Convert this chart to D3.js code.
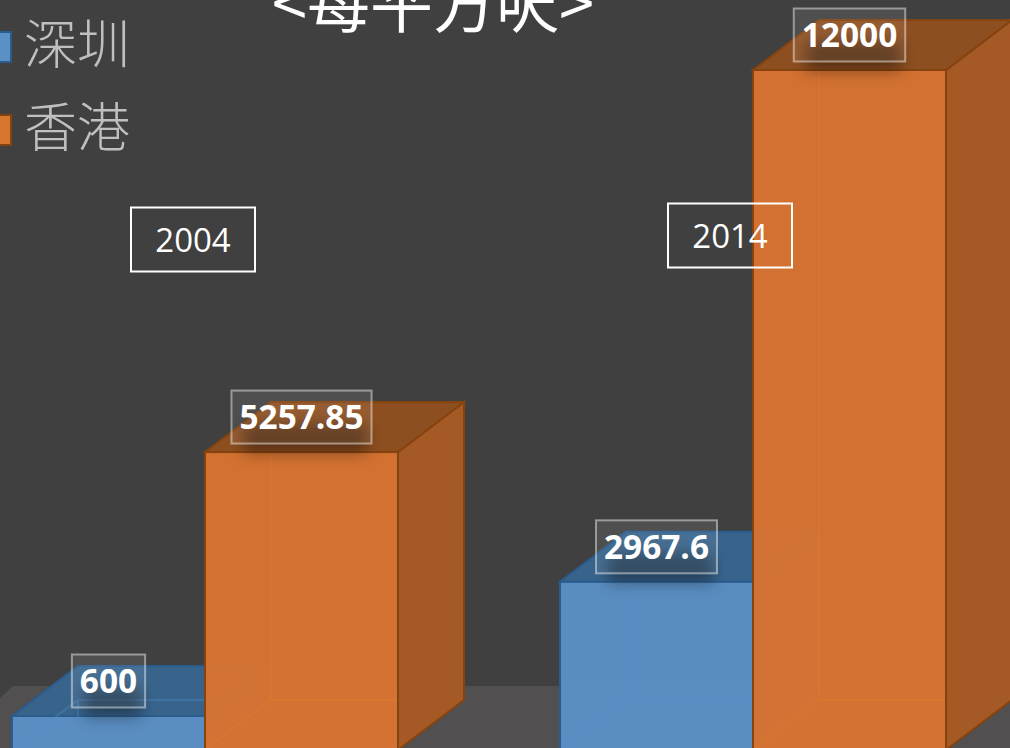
<!DOCTYPE html>
<html>
<head>
<meta charset="utf-8">
<script src="https://cdn.jsdelivr.net/npm/d3@7/dist/d3.min.js"></script>
<style>
    html, body { margin: 0; padding: 0; background: #404040; overflow: hidden; }
    svg { display: block; }
</style>
</head>
<body>
<svg id="chart" width="1010" height="748"></svg>
<script>
const title = '<每平方呎>'
const years = ['2004', '2014']
const seriesNames = ['深圳', '香港']
const shenzhen = [600, 2967.6]
const hongkong = [5257.85, 12000]

const W = 1010
const H = 748
const depthX = 66
const depthY = 50

const palette = {
    '深圳': { front: '#5b90c6', side: '#3d6a94', top: '#38648c', stroke: '#2b5c8e', inner: '#4f8fcd', swatch: '#5a90c4' },
    '香港': { front: '#d87431', side: '#a55a26', top: '#8e4f20', stroke: '#84430f', inner: '#e27a2a', swatch: '#d8762f' }
}

const svg = d3.select('#chart')

const x0 = d3.scaleBand().domain(years).range([12, 946]).paddingInner(162 / 548).paddingOuter(0)
const x1 = d3.scaleBand().domain(seriesNames).range([0, x0.bandwidth()])
const y = d3.scaleLinear().domain([0, 12000]).range([750, 70])

const bars = years.flatMap((year, i) => [
    { year, name: seriesNames[0], value: shenzhen[i] },
    { year, name: seriesNames[1], value: hongkong[i] }
])

const defs = svg.append('defs')
defs.append('filter').attr('id', 'labelShadow')
    .attr('x', '-40%').attr('y', '-100%').attr('width', '180%').attr('height', '300%')
    .append('feGaussianBlur').attr('stdDeviation', 8)

// floor
const floorY = y(0) - depthY - 14
svg.append('path')
    .attr('d', `M0,${floorY + 12}L13,${floorY}L${W},${floorY}L${W},${H}L0,${H}Z`)
    .attr('fill', '#514f4f')

const poly = pts => 'M' + pts.map(p => p.join(',')).join('L') + 'Z'

const gBars = svg.selectAll('g.bar').data(bars).join('g').attr('class', 'bar')

gBars.each(function (d) {
    const g = d3.select(this)
    const c = palette[d.name]
    const bx = x0(d.year) + x1(d.name)
    const bw = x1.bandwidth()
    const top = y(d.value)
    const bot = y(0)

    // right side
    g.append('path')
        .attr('d', poly([[bx + bw, top], [bx + bw + depthX, top - depthY], [bx + bw + depthX, bot - depthY], [bx + bw, bot]]))
        .attr('fill', c.side).attr('stroke', c.stroke).attr('stroke-width', 2)
    // top
    g.append('path')
        .attr('d', poly([[bx, top], [bx + depthX, top - depthY], [bx + bw + depthX, top - depthY], [bx + bw, top]]))
        .attr('fill', c.top).attr('stroke', c.stroke).attr('stroke-width', 2)
    // front
    g.append('rect')
        .attr('x', bx).attr('y', top).attr('width', bw).attr('height', bot - top)
        .attr('fill', c.front).attr('fill-opacity', 0.96)
        .attr('stroke', c.stroke).attr('stroke-width', 2)
    // back edges showing through the front only
    g.append('path')
        .attr('d', `M${bx + depthX},${top + 1}V${bot - depthY}M${bx + 1},${bot - 1}L${bx + depthX},${bot - depthY}H${bx + bw - 1}`)
        .attr('fill', 'none').attr('stroke', c.inner).attr('stroke-width', 2).attr('stroke-opacity', 0.35)
})

// data labels
const labelFont = '"Open Sans", sans-serif'
const labelSize = 33.4
const gLabels = svg.selectAll('g.lab').data(bars).join('g').attr('class', 'lab')

gLabels.each(function (d) {
    const g = d3.select(this)
    const cx = x0(d.year) + x1(d.name) + x1.bandwidth() / 2
    const top = y(d.value)

    const t = g.append('text')
        .attr('x', cx).attr('y', top - 23)
        .attr('text-anchor', 'middle')
        .attr('font-family', labelFont).attr('font-weight', 700).attr('font-size', labelSize)
        .attr('fill', '#fff')
        .text(d.value)

    const tw = t.node().getComputedTextLength()
    const boxW = tw + 16

    // soft shadow under the label
    g.insert('rect', 'text')
        .attr('x', cx - tw / 2 + 4).attr('y', top - 28).attr('width', tw).attr('height', 28)
        .attr('fill', '#000').attr('fill-opacity', 0.4)
        .attr('filter', 'url(#labelShadow)')

    g.insert('rect', 'text')
        .attr('x', cx - boxW / 2).attr('y', top - 61.5).attr('width', boxW).attr('height', 53)
        .attr('fill', '#fff').attr('fill-opacity', 0.08)
        .attr('stroke', '#fff').attr('stroke-opacity', 0.45).attr('stroke-width', 2)
})

// category labels sit in boxes that float in the plot
const catOffset = { '2004': [181, 239.5], '2014': [170, 235.5] }
const gCat = svg.selectAll('g.cat').data(years).join('g').attr('class', 'cat')
    .attr('transform', d => `translate(${x0(d) + catOffset[d][0]},${catOffset[d][1]})`)

gCat.append('rect')
    .attr('x', -62).attr('y', -32).attr('width', 124).attr('height', 64)
    .attr('fill', 'none').attr('stroke', '#fff').attr('stroke-width', 2)

gCat.append('text')
    .attr('y', 12)
    .attr('text-anchor', 'middle')
    .attr('font-family', '"Open Sans", sans-serif').attr('font-size', 33)
    .attr('fill', '#fff')
    .text(d => d)

// legend
const cjk = '"Noto Sans CJK TC", "Noto Sans CJK SC", sans-serif'
const gLegend = svg.selectAll('g.leg').data(seriesNames).join('g').attr('class', 'leg')
    .attr('transform', (d, i) => `translate(0,${47 + i * 83})`)

gLegend.append('rect')
    .attr('x', -20).attr('y', -15).attr('width', 31).attr('height', 30)
    .attr('fill', d => palette[d].swatch)
    .attr('stroke', d => palette[d].stroke).attr('stroke-width', 2)

gLegend.append('text')
    .attr('x', 24).attr('y', 17)
    .attr('font-family', cjk).attr('font-weight', 300).attr('font-size', 53)
    .attr('fill', '#bfbfbf')
    .text(d => d)

// title runs off the top of the page, same as the source
svg.append('text')
    .attr('x', 433).attr('y', 27)
    .attr('text-anchor', 'middle')
    .attr('font-family', cjk).attr('font-weight', 400).attr('font-size', 63)
    .attr('fill', '#fff')
    .text(title)
</script>
</body>
</html>
